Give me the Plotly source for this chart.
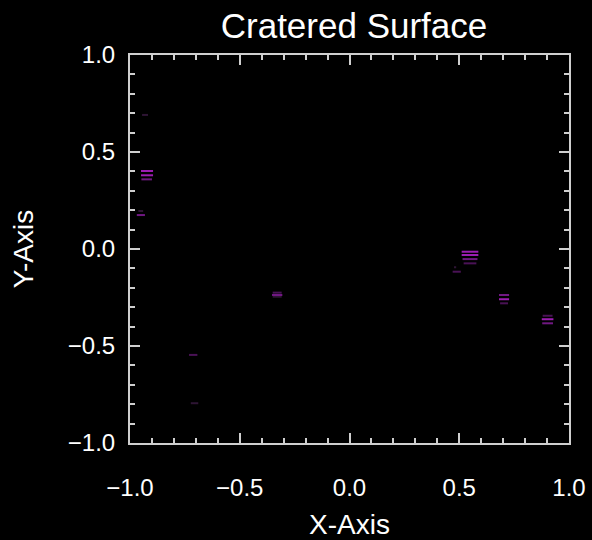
import plotly.graph_objects as go

# Contour segments of the cratered surface (x start, x end, y, contour level)
seg_x0 = [-0.945, -0.950, -0.950, -0.948, -0.962, -0.969,
          0.511, 0.511, 0.515, 0.520, 0.476, 0.470,
          0.681, 0.681, 0.686,
          0.880, 0.876, 0.878,
          -0.350, -0.353, -0.350,
          -0.731, -0.723]
seg_x1 = [-0.918, -0.895, -0.895, -0.900, -0.940, -0.932,
          0.587, 0.587, 0.583, 0.578, 0.486, 0.507,
          0.727, 0.727, 0.722,
          0.925, 0.929, 0.927,
          -0.309, -0.306, -0.309,
          -0.693, -0.689]
seg_y = [0.691, 0.402, 0.380, 0.359, 0.196, 0.175,
         -0.014, -0.031, -0.052, -0.074, -0.094, -0.117,
         -0.237, -0.259, -0.280,
         -0.344, -0.362, -0.383,
         -0.225, -0.237, -0.246,
         -0.546, -0.795]
seg_level = [1, 4, 4, 3, 1, 3,
             4, 4, 3, 2, 1, 2,
             3, 4, 2,
             2, 4, 3,
             2, 3, 1,
             2, 1]

level_colors = {1: "#2e1534", 2: "#4a1256", 3: "#701882", 4: "#9c1db2"}

fig = go.Figure()
for lvl in sorted(level_colors):
    xs, ys = [], []
    for x0, x1, y, l in zip(seg_x0, seg_x1, seg_y, seg_level):
        if l == lvl:
            xs += [x0, x1, None]
            ys += [y, y, None]
    fig.add_trace(go.Scatter(x=xs, y=ys, mode="lines",
                             line=dict(color=level_colors[lvl], width=2),
                             hoverinfo="skip", showlegend=False))

axis_common = dict(
    range=[-1, 1], dtick=0.5, tick0=-1,
    showgrid=False, zeroline=False, automargin=False,
    showline=True, linecolor="#cfcfcf", linewidth=2, mirror="allticks",
    ticks="inside", ticklen=10, tickwidth=2, tickcolor="#cfcfcf",
    tickformat=".1f",
    tickfont=dict(family="Liberation Sans, Arial", size=24, color="#ffffff"),
    minor=dict(ticks="inside", dtick=0.1, ticklen=5, tickwidth=2, tickcolor="#cfcfcf"),
)

fig.update_layout(
    width=592, height=540,
    paper_bgcolor="#000000", plot_bgcolor="#000000",
    margin=dict(l=130, r=23, t=55, b=97),
    title=dict(text="Cratered Surface", x=0.598, xanchor="center", y=0.953, yanchor="middle",
               font=dict(family="Liberation Sans, Arial", size=35, color="#ffffff")),
    xaxis=dict(**axis_common,
               title=dict(text="X-Axis", standoff=16,
                          font=dict(family="Liberation Sans, Arial", size=28, color="#ffffff")),
               ticklabelstandoff=22),
    yaxis=dict(**axis_common,
               title=dict(text="Y-Axis", standoff=26,
                          font=dict(family="Liberation Sans, Arial", size=28, color="#ffffff")),
               ticklabelstandoff=8),
)

fig.write_html("out.html")
